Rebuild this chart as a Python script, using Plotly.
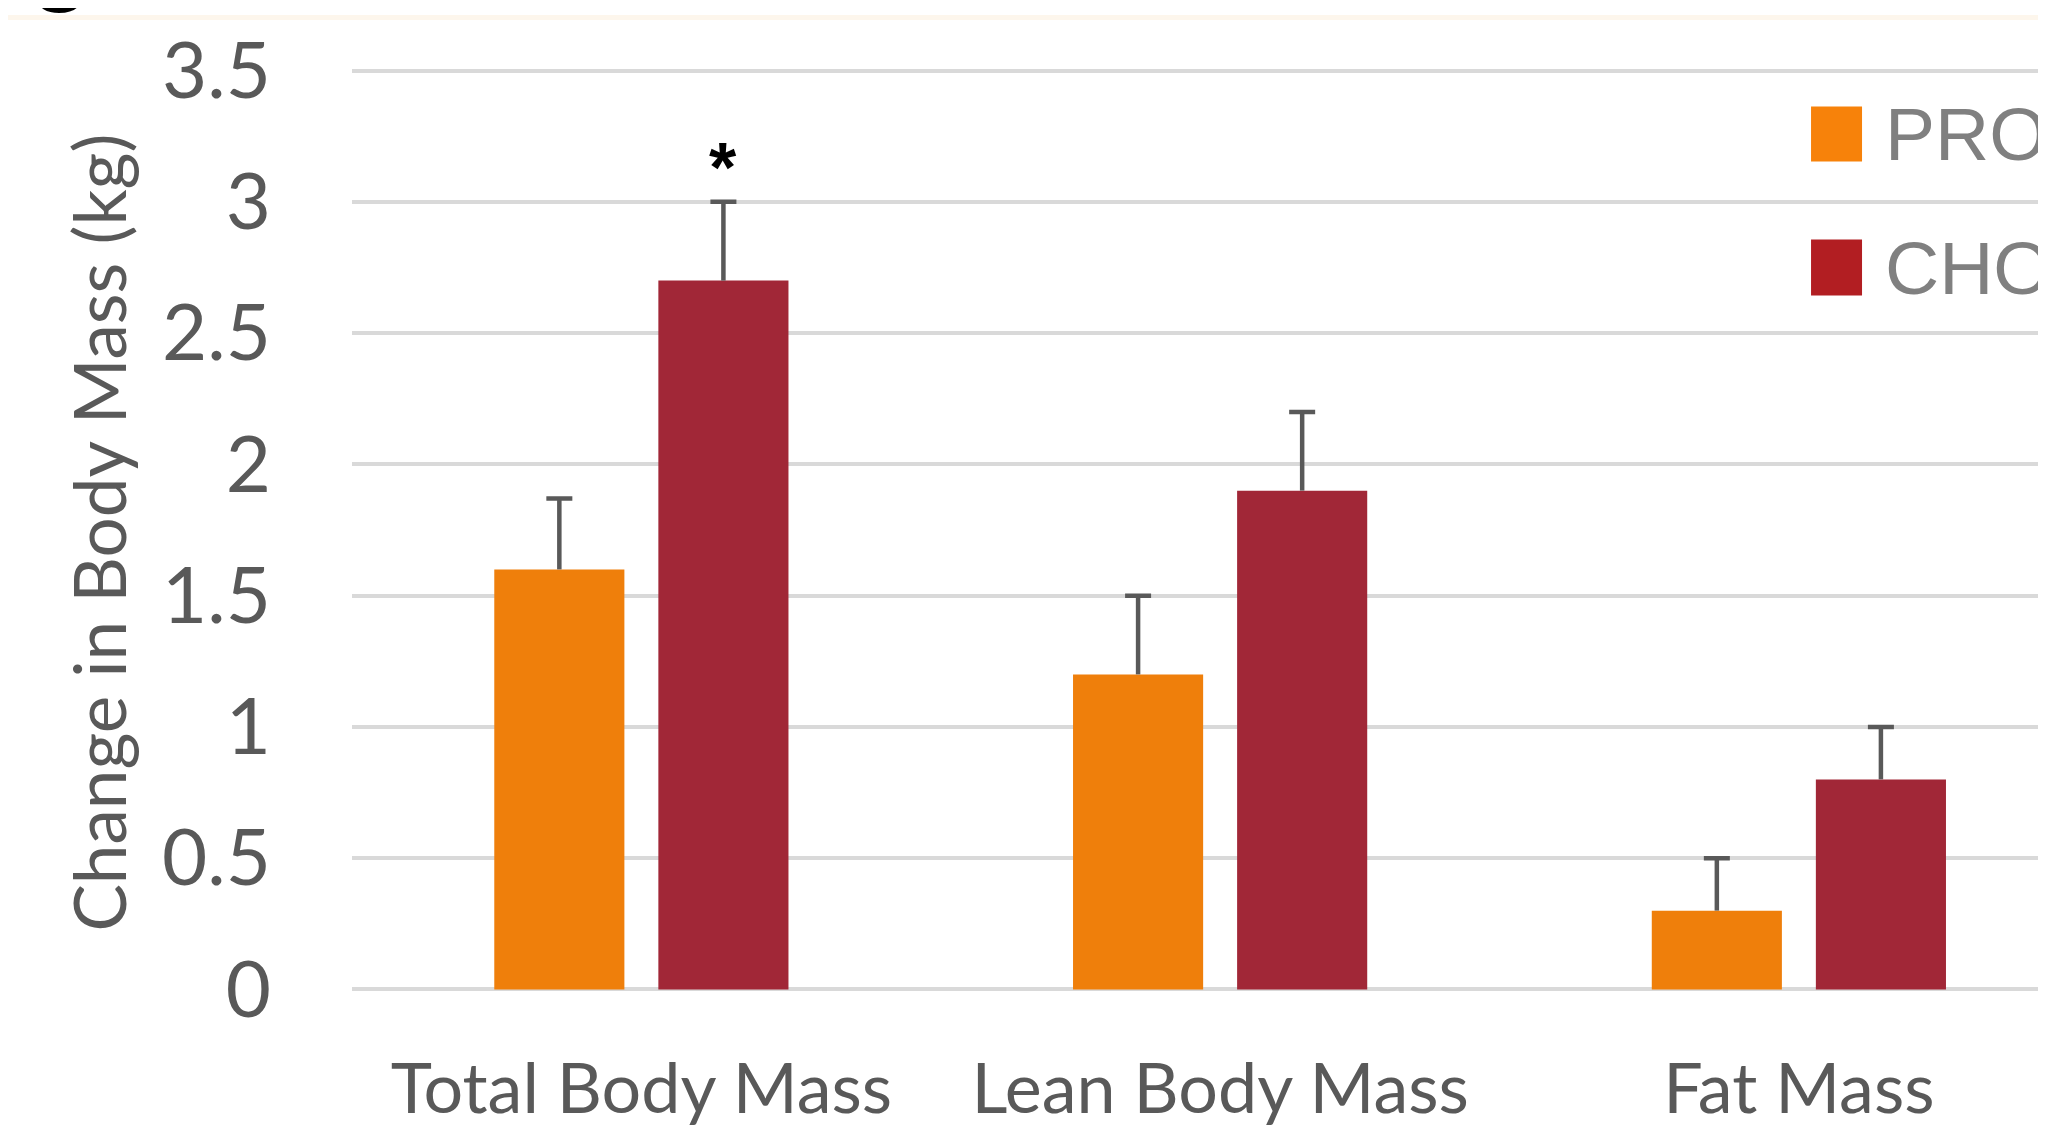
import plotly.graph_objects as go

categories = ["Total Body Mass", "Lean Body Mass", "Fat Mass"]
pro_values = [1.6, 1.2, 0.3]
pro_errors = [0.27, 0.3, 0.2]
cho_values = [2.7, 1.9, 0.8]
cho_errors = [0.3, 0.3, 0.2]
series_names = ["PRO", "CHO"]
y_tickvals = [0, 0.5, 1, 1.5, 2, 2.5, 3, 3.5]
y_ticktext = ["0", "0.5", "1", "1.5", "2", "2.5", "3", "3.5"]
y_title = "Change in Body Mass (kg)"
sig_marker = "*"
panel_label = "g"

BAR_PRO = "#EF7F0B"
BAR_CHO = "#A12737"
LEG_PRO = "#F7820A"
LEG_CHO = "#B21E22"
TXT = "#595959"
GRID = "#D9D9D9"
ERR = "#595959"
FONT = "Lato, Carlito, 'Open Sans', sans-serif"

bargap = 0.433
bargroupgap = 0.207

fig = go.Figure()
for name, vals, errs, col in [
    (series_names[0], pro_values, pro_errors, BAR_PRO),
    (series_names[1], cho_values, cho_errors, BAR_CHO),
]:
    # visible bars with the upward whisker only (no caps)
    fig.add_trace(go.Bar(
        x=categories, y=vals, name=name, offsetgroup=name,
        marker=dict(color=col, line=dict(width=0)),
        error_y=dict(type="data", array=errs, arrayminus=[0] * len(errs),
                     symmetric=False, color=ERR, thickness=4.5, width=0),
        showlegend=False,
    ))
    # transparent twin carrying only the top caps
    fig.add_trace(go.Bar(
        x=categories, y=vals, name=name, offsetgroup=name,
        marker=dict(color="rgba(0,0,0,0)", line=dict(width=0)),
        error_y=dict(type="data", array=errs, arrayminus=[-e for e in errs],
                     symmetric=False, color=ERR, thickness=4.5, width=13),
        showlegend=False, hoverinfo="skip",
    ))

# significance asterisk above CHO bar of first category
fig.add_annotation(
    x=0 + (1 - bargap) / 4, y=cho_values[0] + cho_errors[0],
    xref="x", yref="y", text=sig_marker, showarrow=False,
    font=dict(family="Liberation Sans, Arial", size=70, color="black", weight="bold"),
    yanchor="middle", yshift=34,
)

# y-axis title
fig.add_annotation(
    x=-0.1499, y=0.4973, xref="paper", yref="paper", text=y_title,
    textangle=-90, showarrow=False, xanchor="center", yanchor="middle",
    font=dict(family=FONT, size=71, color=TXT),
)

# cropped panel label at top-left of the source
fig.add_annotation(
    x=-0.1718, y=1.120, xref="paper", yref="paper", text=panel_label,
    showarrow=False, xanchor="center", yanchor="middle",
    font=dict(family="Liberation Sans, Arial", size=100, color="black", weight="bold"),
)

# manual legend
leg = [(series_names[0], LEG_PRO, 0.9582, 0.8987, 0.9285),
       (series_names[1], LEG_CHO, 0.8143, 0.7537, 0.7840)]
for name, col, ytop, ybot, ymid in leg:
    fig.add_shape(type="rect", xref="paper", yref="paper",
                  x0=0.8613, x1=0.8914, y0=ybot, y1=ytop,
                  fillcolor=col, line=dict(width=0))
    fig.add_annotation(x=0.9038, y=ymid, xref="paper", yref="paper", text=name,
                       showarrow=False, xanchor="left", yanchor="middle",
                       font=dict(family="Liberation Sans, Arial", size=75, color="#808080"))

# faint top rule from the cropped source
fig.add_shape(type="line", xref="paper", yref="paper", x0=-0.21, x1=1.0,
              y0=1.0546, y1=1.0546, line=dict(color="#FDF6EC", width=5))

fig.update_layout(
    width=2038, height=1121,
    margin=dict(l=344, r=0, t=60, b=137, autoexpand=False),
    paper_bgcolor="white", plot_bgcolor="white",
    barmode="group", bargap=bargap, bargroupgap=bargroupgap,
    font=dict(family=FONT, color=TXT),
    xaxis=dict(type="category", range=[-0.5, 2.427], showgrid=False,
               showline=False, zeroline=False, ticks="",
               tickfont=dict(family=FONT, size=70, color=TXT),
               ticklabelstandoff=50),
    yaxis=dict(range=[-0.01, 3.51], tickvals=y_tickvals, ticktext=y_ticktext,
               showgrid=True, gridcolor=GRID, gridwidth=4,
               zeroline=True, zerolinecolor=GRID, zerolinewidth=4,
               showline=False, ticks="",
               tickfont=dict(family=FONT, size=78, color=TXT),
               ticklabelstandoff=80),
)

fig.write_html("out.html")
